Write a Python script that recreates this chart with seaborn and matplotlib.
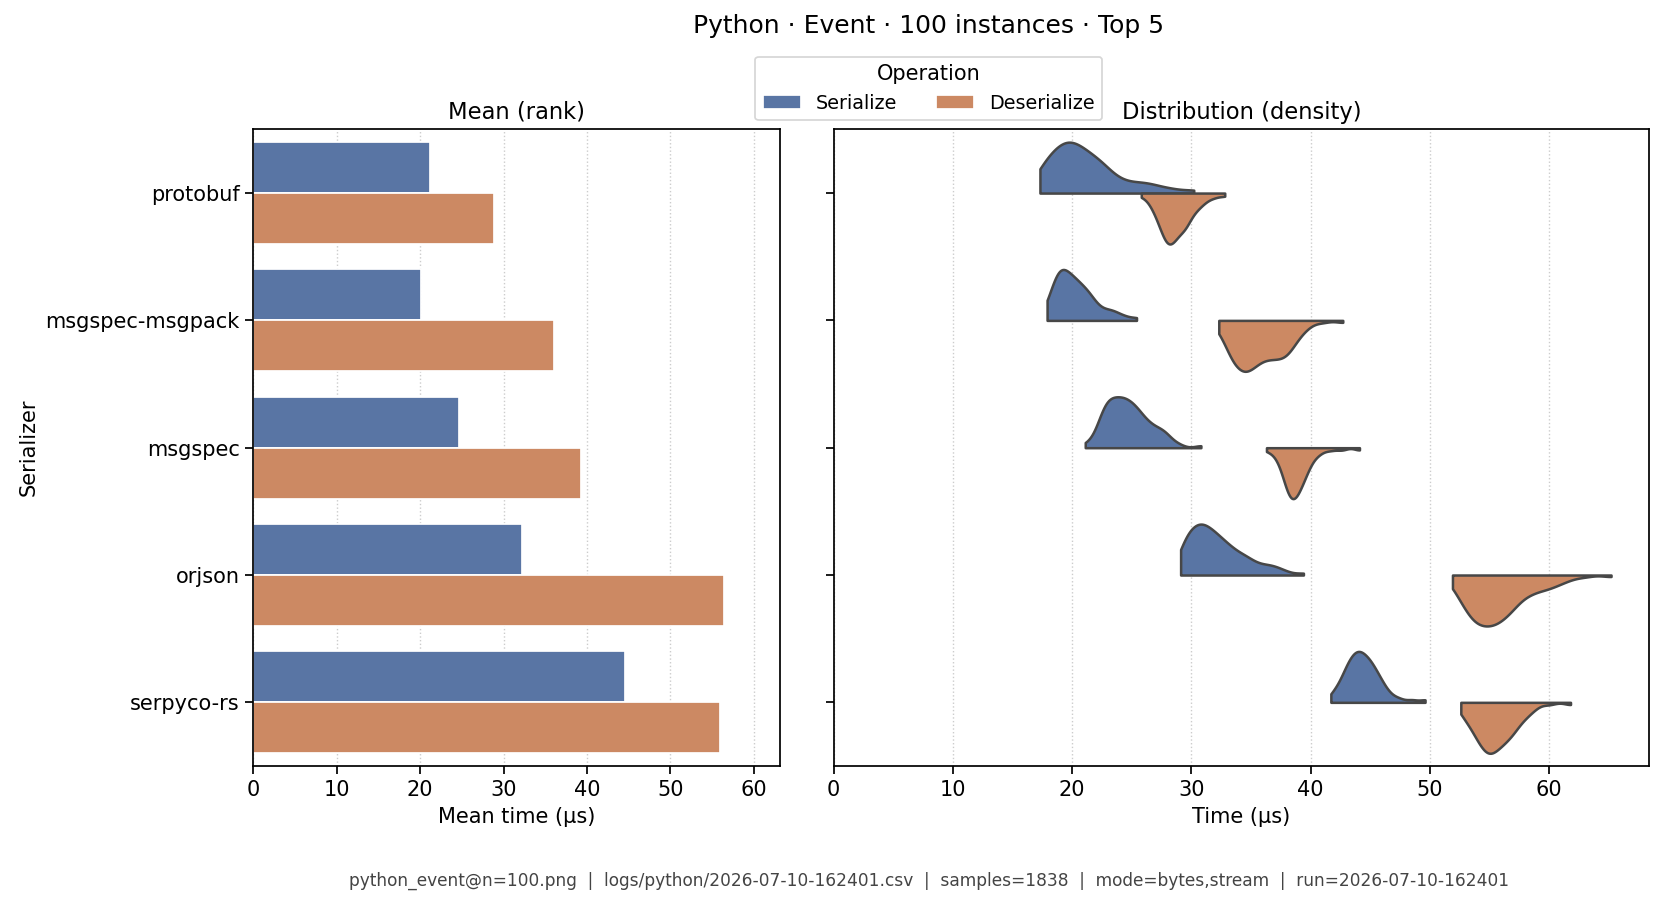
import numpy as np
import pandas as pd
import seaborn as sns
import matplotlib
matplotlib.use("Agg")
import matplotlib.pyplot as plt

serializers = ["protobuf", "msgspec-msgpack", "msgspec", "orjson", "serpyco-rs"]
operations = ["Serialize", "Deserialize"]

# mean times (µs)
mean_serialize = [21.2, 20.1, 24.7, 32.2, 44.5]
mean_deserialize = [28.9, 36.0, 39.3, 56.4, 55.9]

# distribution samples (time value, count)
protobuf_ser_t = [17.3, 17.5, 18.5, 19.5, 20.5, 21.5, 22.5, 23.5, 24.5, 25.5, 26.5, 27.5, 28.5, 30.2]
protobuf_ser_n = [2, 4, 8, 10, 9, 7, 6, 3, 2, 2, 2, 1, 1, 1]
protobuf_de_t = [25.8, 26.5, 27.0, 27.5, 28.0, 28.5, 29.0, 29.5, 30.0, 30.5, 31.0, 31.5, 32.0, 32.8]
protobuf_de_n = [1, 2, 4, 7, 10, 9, 7, 7, 4, 3, 2, 1, 1, 1]

msgpack_ser_t = [17.9, 18.5, 19.0, 19.5, 20.0, 20.5, 21.0, 21.5, 22.0, 22.5, 23.0, 23.5, 24.0, 24.5, 25.4]
msgpack_ser_n = [4, 8, 10, 9, 8, 7, 6, 5, 3, 2, 2, 2, 1, 1, 1]
msgpack_de_t = [32.3, 33.0, 33.5, 34.0, 34.5, 35.0, 35.5, 36.0, 36.5, 37.0, 37.5, 38.0, 38.5, 39.0, 39.5, 40.0, 41.0, 42.7]
msgpack_de_n = [3, 6, 8, 9, 10, 9, 8, 7, 7, 7, 7, 7, 5, 3, 2, 1, 1, 1]

msgspec_ser_t = [21.1, 21.5, 22.0, 22.5, 23.0, 23.5, 24.0, 24.5, 25.0, 25.5, 26.0, 26.5, 27.0, 27.5, 28.0, 28.5, 29.0, 30.8]
msgspec_ser_n = [1, 1, 3, 8, 10, 10, 10, 10, 9, 8, 6, 5, 4, 4, 3, 1, 1, 1]
msgspec_de_t = [36.3, 36.8, 37.2, 37.6, 38.0, 38.4, 38.8, 39.2, 39.6, 40.0, 40.5, 41.0, 41.7, 42.6, 44.1]
msgspec_de_n = [1, 1, 2, 4, 8, 10, 9, 7, 5, 3, 2, 1, 1, 1, 1]

orjson_ser_t = [29.1, 29.5, 30.0, 30.5, 31.0, 31.5, 32.0, 32.5, 33.0, 33.5, 34.0, 34.5, 35.0, 35.5, 36.0, 36.5, 37.0, 37.5, 38.0, 39.4]
orjson_ser_n = [5, 7, 9, 10, 10, 9, 8, 7, 6, 5, 4, 4, 3, 2, 2, 2, 2, 1, 1, 1]
orjson_de_t = [51.9, 52.5, 53.0, 53.5, 54.0, 54.5, 55.0, 55.5, 56.0, 56.5, 57.0, 57.5, 58.0, 58.5, 59.0, 59.5, 60.0, 60.5, 61.0, 61.5, 62.0, 63.0, 65.2]
orjson_de_n = [3, 5, 7, 9, 10, 10, 10, 10, 9, 8, 7, 5, 4, 4, 3, 3, 3, 2, 2, 1, 1, 1, 1]

serpyco_ser_t = [41.7, 42.0, 42.5, 43.0, 43.5, 44.0, 44.5, 45.0, 45.5, 46.0, 46.5, 47.0, 47.5, 48.5, 49.6]
serpyco_ser_n = [1, 2, 4, 7, 9, 10, 9, 8, 6, 4, 2, 1, 1, 1, 1]
serpyco_de_t = [52.6, 53.0, 53.5, 54.0, 54.5, 55.0, 55.5, 56.0, 56.5, 57.0, 57.5, 58.0, 58.5, 59.0, 60.0, 61.8]
serpyco_de_n = [2, 3, 5, 7, 9, 10, 9, 8, 7, 6, 4, 3, 2, 1, 1, 1]

footer = ("python_event@n=100.png  |  logs/python/2026-07-10-162401.csv  |  samples=1838  |  "
          "mode=bytes,stream  |  run=2026-07-10-162401")

# ---- build tables ----
means = pd.DataFrame({
    "Serializer": serializers * 2,
    "Operation": ["Serialize"] * 5 + ["Deserialize"] * 5,
    "Mean": mean_serialize + mean_deserialize,
})

groups = [
    ("protobuf", protobuf_ser_t, protobuf_ser_n, protobuf_de_t, protobuf_de_n),
    ("msgspec-msgpack", msgpack_ser_t, msgpack_ser_n, msgpack_de_t, msgpack_de_n),
    ("msgspec", msgspec_ser_t, msgspec_ser_n, msgspec_de_t, msgspec_de_n),
    ("orjson", orjson_ser_t, orjson_ser_n, orjson_de_t, orjson_de_n),
    ("serpyco-rs", serpyco_ser_t, serpyco_ser_n, serpyco_de_t, serpyco_de_n),
]
rows = []
for name, st, sn, dt, dn in groups:
    for v in np.repeat(st, sn):
        rows.append((name, "Serialize", v))
    for v in np.repeat(dt, dn):
        rows.append((name, "Deserialize", v))
samples = pd.DataFrame(rows, columns=["Serializer", "Operation", "Time"])

# ---- plot ----
sns.set_theme(style="ticks", palette="deep")
plt.rcParams["font.family"] = ["DejaVu Sans"]
plt.rcParams.update({"text.color": "black", "axes.labelcolor": "black",
                     "xtick.color": "black", "ytick.color": "black"})

DPI = 125
fig = plt.figure(figsize=(1663 / DPI, 905 / DPI), dpi=DPI)
ax1 = fig.add_axes([0.1524, 0.1536, 0.3164, 0.7034])
ax2 = fig.add_axes([0.5013, 0.1536, 0.4904, 0.7034], sharey=ax1)

sns.barplot(data=means, y="Serializer", x="Mean", hue="Operation",
            order=serializers, hue_order=operations, orient="y",
            width=0.8, ax=ax1, errorbar=None)
sns.violinplot(data=samples, y="Serializer", x="Time", hue="Operation",
               order=serializers, hue_order=operations, orient="y",
               split=True, inner=None, cut=0, density_norm="width",
               width=0.8, linewidth=1.45, linecolor="#474747",
               bw_adjust=0.7, ax=ax2, legend=False)

for ax in (ax1, ax2):
    ax.grid(axis="x", linestyle=":", color="#cccccc", linewidth=0.8)
    ax.set_axisbelow(True)
    ax.tick_params(labelsize=12, width=1.0, length=4.5)
    for s in ax.spines.values():
        s.set_linewidth(1.0)
        s.set_color("black")

ax1.set_xlim(0, 63.1)
ax2.set_xlim(0, 68.4)
ax1.set_ylim(4.5, -0.5)
ax1.set_xticks([0, 10, 20, 30, 40, 50, 60])
ax2.set_xticks([0, 10, 20, 30, 40, 50, 60])
ax1.set_title("Mean (rank)", fontsize=13)
ax2.set_title("Distribution (density)", fontsize=13)
ax1.set_xlabel("Mean time (µs)", fontsize=12)
ax2.set_xlabel("Time (µs)", fontsize=12)
ax1.set_ylabel("Serializer", fontsize=12, labelpad=4)
ax2.set_ylabel("")
plt.setp(ax2.get_yticklabels(), visible=False)

handles, labels = ax1.get_legend_handles_labels()
ax1.get_legend().remove()
leg = fig.legend(handles, labels, title="Operation", ncol=2, loc="upper center",
                 bbox_to_anchor=(0.5584, 0.948), fontsize=11, title_fontsize=12,
                 frameon=True, columnspacing=2.0, handlelength=2.0)
leg.get_frame().set_edgecolor("#cccccc")

fig.suptitle("Python · Event · 100 instances · Top 5", x=0.5584, y=0.985, fontsize=14.4)
fig.text(0.5584, 0.027, footer, ha="center", va="center", fontsize=9.8, color="#444444")

fig.savefig("out.png", dpi=DPI)
